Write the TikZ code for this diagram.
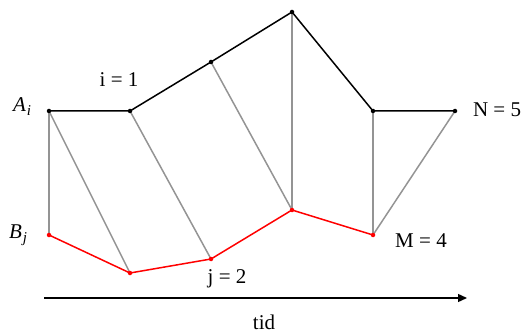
\documentclass[tikz,border=0pt]{standalone}
\usepackage{fontspec}
\setmainfont{Liberation Serif}
\usetikzlibrary{arrows.meta}
\begin{document}
\begin{tikzpicture}[x=1pt,y=-1pt,
  lbl/.style={font=\fontsize{21}{24}\selectfont, inner sep=0pt},
  mlbl/.style={font=\fontsize{21}{24}\selectfont\itshape, inner sep=0pt},
  topline/.style={line width=1.5pt, black},
  botline/.style={line width=1.5pt, red},
  link/.style={line width=1.5pt, black!42},
  tdot/.style={circle, fill=black, inner sep=0pt, minimum size=4.5pt},
  bdot/.style={circle, fill=red, inner sep=0pt, minimum size=4.5pt}]
\useasboundingbox (0,0) rectangle (525,334);
% top points
\coordinate (a1) at (49,111);
\coordinate (a2) at (130,111);
\coordinate (a3) at (211,62);
\coordinate (a4) at (292,12);
\coordinate (a5) at (373,111);
\coordinate (a6) at (455,111);
% bottom points
\coordinate (b1) at (49,235);
\coordinate (b2) at (130,273);
\coordinate (b3) at (211,259);
\coordinate (b4) at (292,210);
\coordinate (b5) at (373,235);
% links
\draw[link] (a1) -- (b1);
\draw[link] (a1) -- (b2);
\draw[link] (a2) -- (b3);
\draw[link] (a3) -- (b4);
\draw[link] (a4) -- (b4);
\draw[link] (a5) -- (b5);
\draw[link] (a6) -- (b5);
% polylines
\draw[topline, line join=round] (a1) -- (a2) -- (a3) -- (a4) -- (a5) -- (a6);
\draw[botline, line join=round] (b1) -- (b2) -- (b3) -- (b4) -- (b5);
\foreach \p in {a1,a2,a3,a4,a5,a6} \node[tdot] at (\p) {};
\foreach \p in {b1,b2,b3,b4,b5} \node[bdot] at (\p) {};
% labels
\node[mlbl] (la) at (22,107) {A\kern1pt\raisebox{-4pt}{\fontsize{15}{16}\selectfont i}};
\node[mlbl] (lb) at (18,235) {B\kern1pt\raisebox{-4pt}{\fontsize{15}{16}\selectfont j}};
\node[lbl] (li) at (119,80) {i = 1};
\node[lbl] (ln) at (497,110) {N = 5};
\node[lbl] (lm) at (421,241) {M = 4};
\node[lbl] (lj) at (227,279) {j = 2};
% time axis
\coordinate (t0) at (44,298);
\coordinate (t1) at (467,298);
\draw[line width=1.4pt, -{Triangle[length=9pt,width=8pt]}] (t0) -- (t1);
\node[lbl] (lt) at (264,322) {tid};
\end{tikzpicture}
\end{document}
